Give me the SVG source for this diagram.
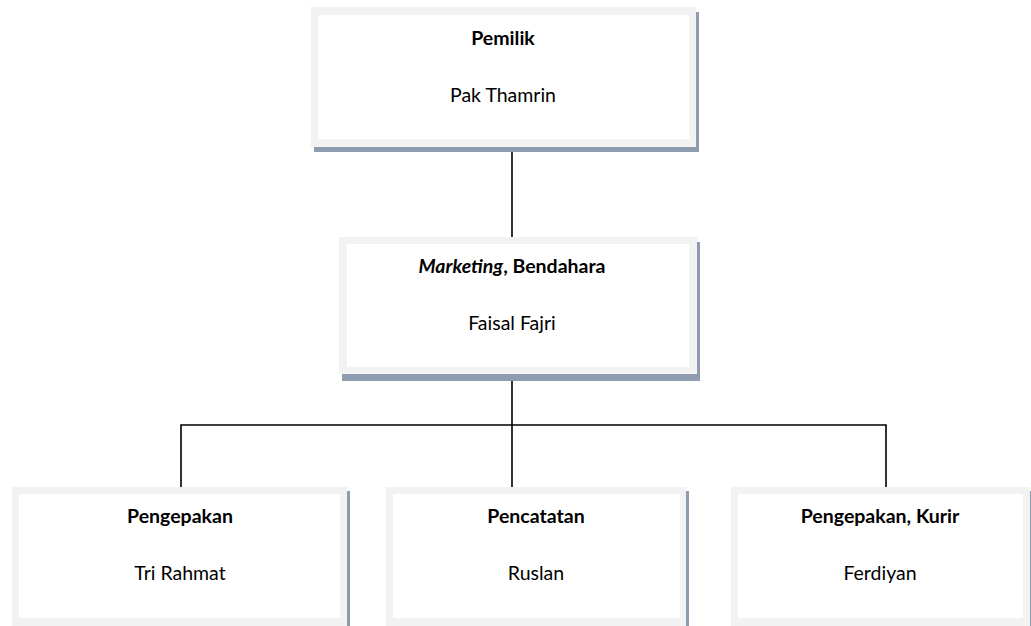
<svg xmlns="http://www.w3.org/2000/svg" width="1031" height="626" viewBox="0 0 1031 626">
<style>
.sh{fill:#8f9cb0}
.ob{fill:#f2f2f2}
.ib{fill:#ffffff}
.t{font-family:Lato,"Open Sans",sans-serif;font-size:19.5px;fill:#000;text-anchor:middle}
.b{font-weight:bold}
.c{stroke:#000;stroke-width:1.6;fill:none}
</style>
<rect width="1031" height="626" fill="#fff"/>
<g id="connectors">
<line class="c" x1="512" y1="147" x2="512" y2="237"/>
<line class="c" x1="512" y1="374" x2="512" y2="487"/>
<polyline class="c" points="181,487 181,425 886,425 886,487"/>
</g>
<g id="pemilik">
<rect class="sh" x="314" y="12" width="385" height="140"/>
<rect class="ob" x="311" y="7" width="385" height="140"/>
<rect class="ib" x="318" y="15" width="371" height="124"/>
<text class="t b" x="503" y="45">Pemilik</text>
<text class="t" x="503" y="102">Pak Thamrin</text>
</g>
<g id="marketing">
<rect class="sh" x="342" y="242" width="358" height="139"/>
<rect class="ob" x="339" y="237" width="358" height="137"/>
<rect class="ib" x="347" y="244" width="342" height="123"/>
<text class="t b" x="512" y="273"><tspan font-style="italic">Marketing</tspan>, Bendahara</text>
<text class="t" x="512" y="330">Faisal Fajri</text>
</g>
<g id="pengepakan">
<rect class="sh" x="15" y="491" width="335" height="140"/>
<rect class="ob" x="12" y="487" width="335" height="140"/>
<rect class="ib" x="19" y="494" width="321" height="124"/>
<text class="t b" x="180" y="523">Pengepakan</text>
<text class="t" x="180" y="580">Tri Rahmat</text>
</g>
<g id="pencatatan">
<rect class="sh" x="389" y="491" width="300" height="140"/>
<rect class="ob" x="386" y="487" width="300" height="140"/>
<rect class="ib" x="393" y="494" width="287" height="124"/>
<text class="t b" x="536" y="523">Pencatatan</text>
<text class="t" x="536" y="580">Ruslan</text>
</g>
<g id="kurir">
<rect class="sh" x="734" y="491" width="300" height="140"/>
<rect class="ob" x="731" y="487" width="299" height="140"/>
<rect class="ib" x="738" y="494" width="285" height="124"/>
<text class="t b" x="880" y="523">Pengepakan, Kurir</text>
<text class="t" x="880" y="580">Ferdiyan</text>
</g>
</svg>
